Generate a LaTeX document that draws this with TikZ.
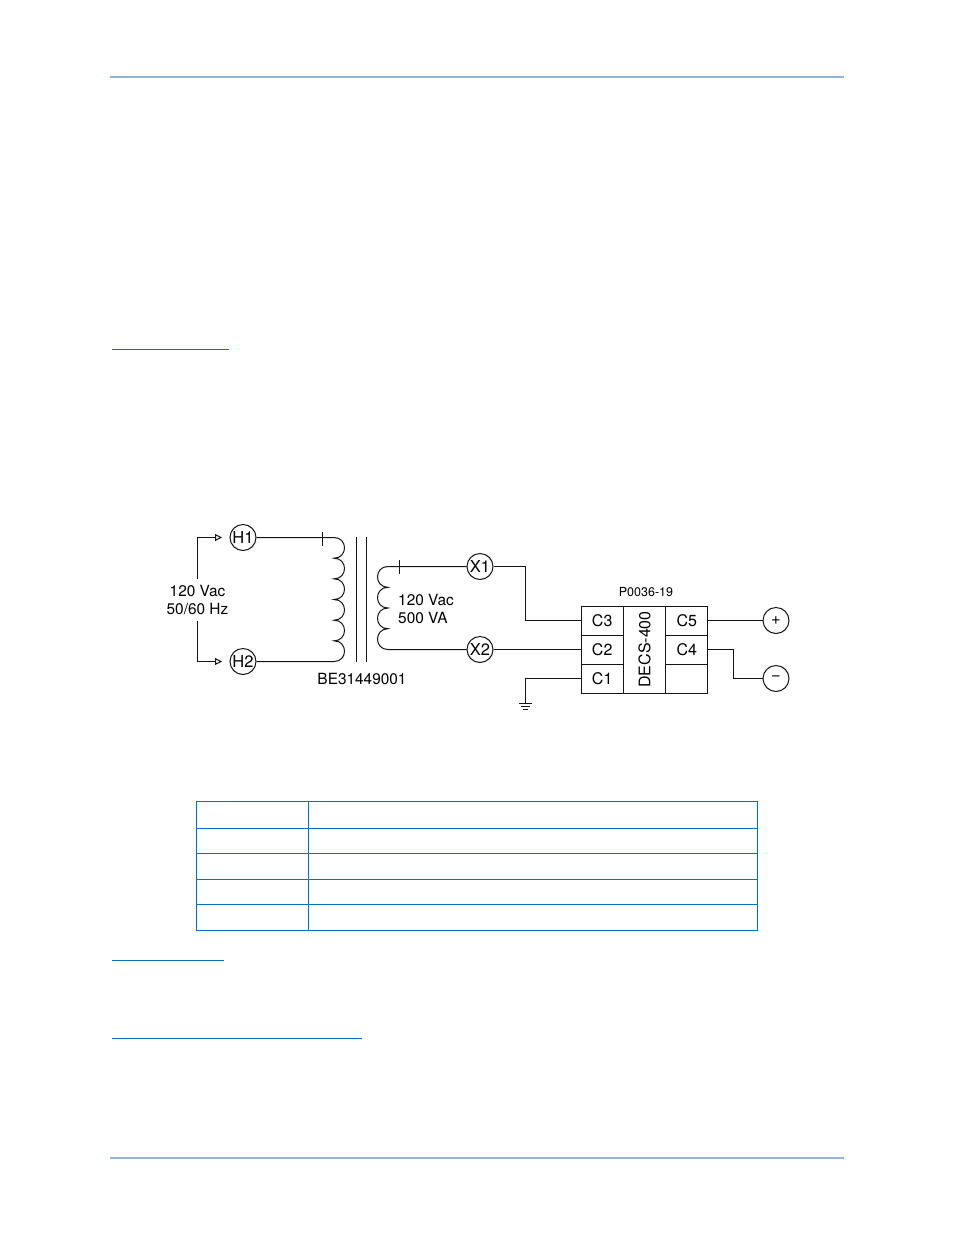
\documentclass[tikz,border=0pt]{standalone}
\usepackage[svgnames]{xcolor}
\usepackage{fontspec}
\setmainfont{TeX Gyre Heros}
\usepackage{tikz}
\usetikzlibrary{arrows.meta}
\definecolor{pagerule}{HTML}{95B3D7}
\definecolor{linkblue}{HTML}{0070C0}
\definecolor{wirecol}{HTML}{141414}
\tikzstyle{term} = [draw=wirecol, circle, line width=1pt, minimum size=26pt, inner sep=0pt, font=\fontsize{16.5}{18}\selectfont]
\tikzstyle{cell} = [draw=wirecol, line width=1pt, minimum width=42.3pt, minimum height=29pt, inner sep=0pt, outer sep=0pt, font=\fontsize{16}{18}\selectfont]
\tikzstyle{lbl} = [inner sep=0pt, font=\fontsize{15.4}{18}\selectfont, align=left]
\tikzset{
  wire/.style ={draw=wirecol, line width=1pt},
  feed/.style ={wire, -{Triangle[open,length=7pt,width=7pt]}, shorten >=7.5pt},
  tabline/.style ={draw=linkblue, line width=1pt},
  linkline/.style ={draw=linkblue, line width=1pt}
}

\begin{document}
\begin{tikzpicture}[x=1pt,y=-1pt]
	\useasboundingbox (0,0) rectangle (954,1235);
	\draw [draw=pagerule,line width=1.8pt] (110,77) -- (844,77);
	\draw [draw=pagerule,line width=1.8pt] (110,1158) -- (844,1158);
	\draw [linkline] (112,349.5) -- (229,349.5);
	\draw [linkline] (112,960.5) -- (224,960.5);
	\draw [linkline] (112,1038.5) -- (362,1038.5);

	\draw [tabline] (196.5,801.5) rectangle (757,930);
	\draw [tabline] (308.5,801.5) -- (308.5,930);
	\draw [tabline] (196.5,828.5) -- (757,828.5);
	\draw [tabline] (196.5,853.5) -- (757,853.5);
	\draw [tabline] (196.5,879.5) -- (757,879.5);
	\draw [tabline] (196.5,904.5) -- (757,904.5);

	\node [term] (h1) at (243,537.5) {H1};
	\node [term] (h2) at (243,661.5) {H2};
	\node [term] (x1) at (480,566.5) {X1};
	\node [term] (x2) at (480,649.5) {X2};
	\node [term] (plus) at (776,620.5) {+};
	\node [term] (minus) at (776,678.5) {−};

	\node [lbl,align=center,inner ysep=6pt] (supply) at (197.5,600) {120 Vac\\50/60 Hz};
	\node [lbl,anchor=west] (secrate) at (398,609) {120 Vac\\500 VA};
	\node [lbl] (partno) at (362,678.5) {BE31449001};
	\node [inner sep=0pt,font=\fontsize{12.5}{14}\selectfont] (figno) at (646,592) {P0036-19};

	\node [cell] (c3) at (602.2,620.5) {C3};
	\node [cell] (c2) at (602.2,649.5) {C2};
	\node [cell] (c1) at (602.2,678.5) {C1};
	\node [cell,minimum width=87pt,minimum height=42.3pt,rotate=90] (decs) at (644.5,649.5) {DECS-400};
	\node [cell] (c5) at (686.8,620.5) {C5};
	\node [cell] (c4) at (686.8,649.5) {C4};
	\node [cell] (c0) at (686.8,678.5) {};

	\draw [feed] (supply.north) |- (h1.west);
	\draw [feed] (supply.south) |- (h2.west);

	\coordinate (ptop) at (334,537.5);
	\coordinate (pbot) at (334,661.5);
	\draw [wire] (h1) -- (ptop)
		.. controls +(14,0) and +(14,0) .. (334,558.2)
		.. controls +(14,0) and +(14,0) .. (334,578.8)
		.. controls +(14,0) and +(14,0) .. (334,599.5)
		.. controls +(14,0) and +(14,0) .. (334,620.2)
		.. controls +(14,0) and +(14,0) .. (334,640.8)
		.. controls +(14,0) and +(14,0) .. (pbot) -- (h2);
	\draw [wire] (322,531.5) -- (322,545.5);

	\draw [wire] (356,537) -- (356,662);
	\draw [wire] (366,537) -- (366,662);

	\coordinate (stop) at (388,566.5);
	\coordinate (sbot) at (388,649.5);
	\draw [wire] (x1) -- (stop)
		.. controls +(-14,0) and +(-14,0) .. (388,587.3)
		.. controls +(-14,0) and +(-14,0) .. (388,608)
		.. controls +(-14,0) and +(-14,0) .. (388,628.7)
		.. controls +(-14,0) and +(-14,0) .. (sbot) -- (x2);
	\draw [wire] (399,560) -- (399,574);

	\coordinate (xbend) at (525.5,566.5);
	\draw [wire] (x1) -- (xbend) |- (c3);
	\draw [wire] (x2) -- (c2);
	\coordinate (gnd) at (525.5,703);
	\draw [wire] (c1) -| (gnd);
	\draw [wire] (519,703) -- (532,703);
	\draw [wire] (521,706.3) -- (530,706.3);
	\draw [wire] (523,709.5) -- (528,709.5);
	\draw [wire] (c5) -- (plus);
	\coordinate (cbend) at (733.5,649.5);
	\draw [wire] (c4) -- (cbend) |- (minus);
\end{tikzpicture}
\end{document}
